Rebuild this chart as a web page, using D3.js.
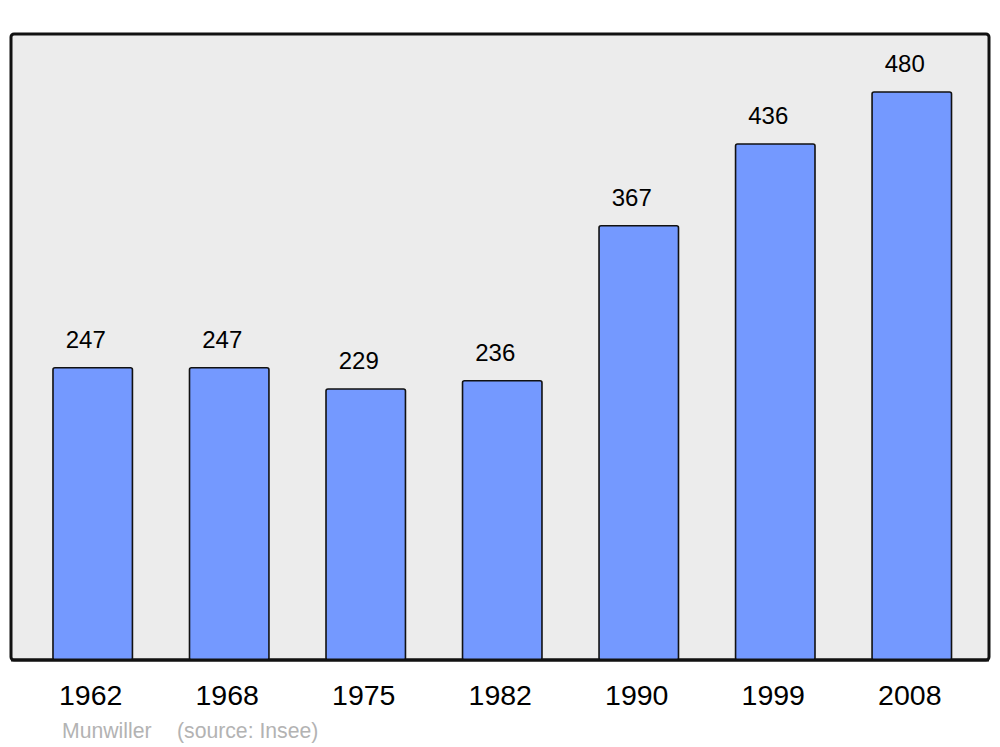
<!DOCTYPE html>
<html>
<head>
<meta charset="utf-8">
<script src="https://cdn.jsdelivr.net/npm/d3@7"></script>
<style>
html,body{margin:0;padding:0;background:#fff;}
svg{display:block;font-family:"Liberation Sans",Arial,sans-serif;}
</style>
</head>
<body>
<svg id="chart" width="1000" height="747"></svg>
<script>
const years = ["1962","1968","1975","1982","1990","1999","2008"];
const population = [247,247,229,236,367,436,480];
const sourceLabel = "Munwiller";
const sourceNote = "(source: Insee)";

const svg = d3.select("#chart");
const panel = {x0: 11, y0: 34, x1: 989, y1: 660};

svg.append("rect")
  .attr("x", panel.x0).attr("y", panel.y0)
  .attr("width", panel.x1 - panel.x0).attr("height", panel.y1 - panel.y0)
  .attr("rx", 3).attr("ry", 3)
  .attr("fill", "#ececec").attr("stroke", "#111").attr("stroke-width", 3);

const x = d3.scaleBand().domain(years).range([24.25, 980.25])
  .paddingInner(0.418).paddingOuter(0.2105);
const y = d3.scaleLinear().domain([0, 480]).range([660, 92]);

const data = years.map((yr, i) => ({year: yr, value: population[i]}));

svg.append("g").selectAll("rect").data(data).join("rect")
  .attr("x", d => x(d.year))
  .attr("y", d => y(d.value))
  .attr("width", x.bandwidth())
  .attr("height", d => y(0) - y(d.value))
  .attr("rx", 2).attr("ry", 2)
  .attr("fill", "#7499ff").attr("stroke", "#111").attr("stroke-width", 1.6);

svg.append("line")
  .attr("x1", panel.x0).attr("x2", panel.x1)
  .attr("y1", panel.y1).attr("y2", panel.y1)
  .attr("stroke", "#111").attr("stroke-width", 3);

svg.append("g").selectAll("text").data(data).join("text")
  .attr("x", d => x(d.year) + x.bandwidth()/2 - 7)
  .attr("y", d => y(d.value) - 20)
  .attr("text-anchor", "middle")
  .attr("font-size", 24)
  .attr("fill", "#000")
  .text(d => d.value);

const xAxis = svg.append("g").attr("transform", `translate(0,${panel.y1})`)
  .call(d3.axisBottom(x).tickSize(0).tickPadding(25));
xAxis.select(".domain").remove();
xAxis.selectAll("text")
  .attr("font-size", 28.5)
  .attr("font-family", "Liberation Sans, Arial, sans-serif")
  .attr("fill", "#000")
  .attr("dx", -2);

svg.append("text").attr("x", 62).attr("y", 738)
  .attr("font-size", 21.2).attr("fill", "#b3b3b3").text(sourceLabel);
svg.append("text").attr("x", 177).attr("y", 738)
  .attr("font-size", 21.2).attr("fill", "#b3b3b3").text(sourceNote);
</script>
</body>
</html>
